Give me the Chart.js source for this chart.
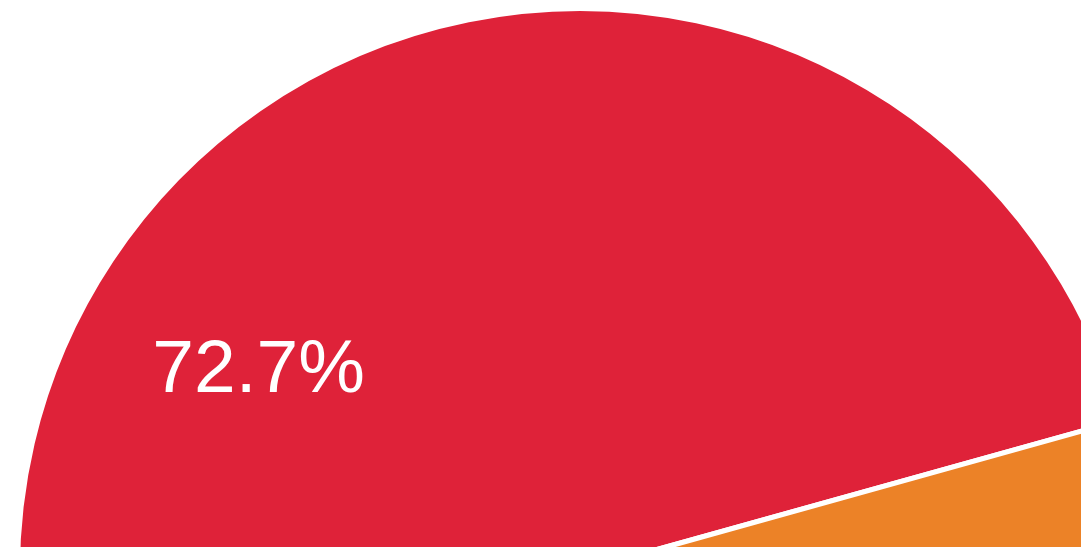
<!DOCTYPE html>
<html>
<head>
<meta charset="utf-8">
<script src="https://cdn.jsdelivr.net/npm/chart.js@4"></script>
<style>
    html, body { margin: 0; padding: 0; background: #fff; }
    body { width: 1081px; height: 547px; overflow: hidden; position: relative; }
    #wrap { position: absolute; left: 15px; top: 6px; width: 1130px; height: 1130px; }
</style>
</head>
<body>
<div id="wrap"><canvas id="pieChart" width="1130" height="1130"></canvas></div>
<script>
const categories = ["A", "B"];
const values = [72.7, 27.3];
const sliceColors = ["#DF2239", "#EC8227"];
const shownLabels = ["72.7%", ""];

// white percent text inside the slice, placed along the slice's middle angle
const sliceLabels = {
    id: "sliceLabels",
    afterDatasetsDraw(chart) {
        const ctx = chart.ctx;
        chart.getDatasetMeta(0).data.forEach((arc, i) => {
            if (!shownLabels[i]) return;
            const mid = (arc.startAngle + arc.endAngle) / 2;
            const r = arc.outerRadius * 0.675;
            ctx.save();
            ctx.fillStyle = "#fff";
            ctx.font = "75px 'Liberation Sans', Arial, sans-serif";
            ctx.textAlign = "center";
            ctx.textBaseline = "middle";
            // nudge so the digits sit centred like the original
            ctx.fillText(shownLabels[i], arc.x + Math.cos(mid) * r - 5, arc.y + Math.sin(mid) * r + 10);
            ctx.restore();
        });
    }
};

const chart = new Chart(document.getElementById("pieChart").getContext("2d"), {
    type: "pie",
    data: {
        labels: categories,
        datasets: [{
            data: values,
            backgroundColor: sliceColors,
            borderColor: "#fff",
            borderWidth: 5
        }]
    },
    options: {
        responsive: false,
        animation: false,
        devicePixelRatio: 1,
        rotation: 172.7,
        layout: { padding: 0 },
        plugins: { legend: { display: false }, tooltip: { enabled: false } }
    },
    plugins: [sliceLabels]
});
</script>
</body>
</html>
